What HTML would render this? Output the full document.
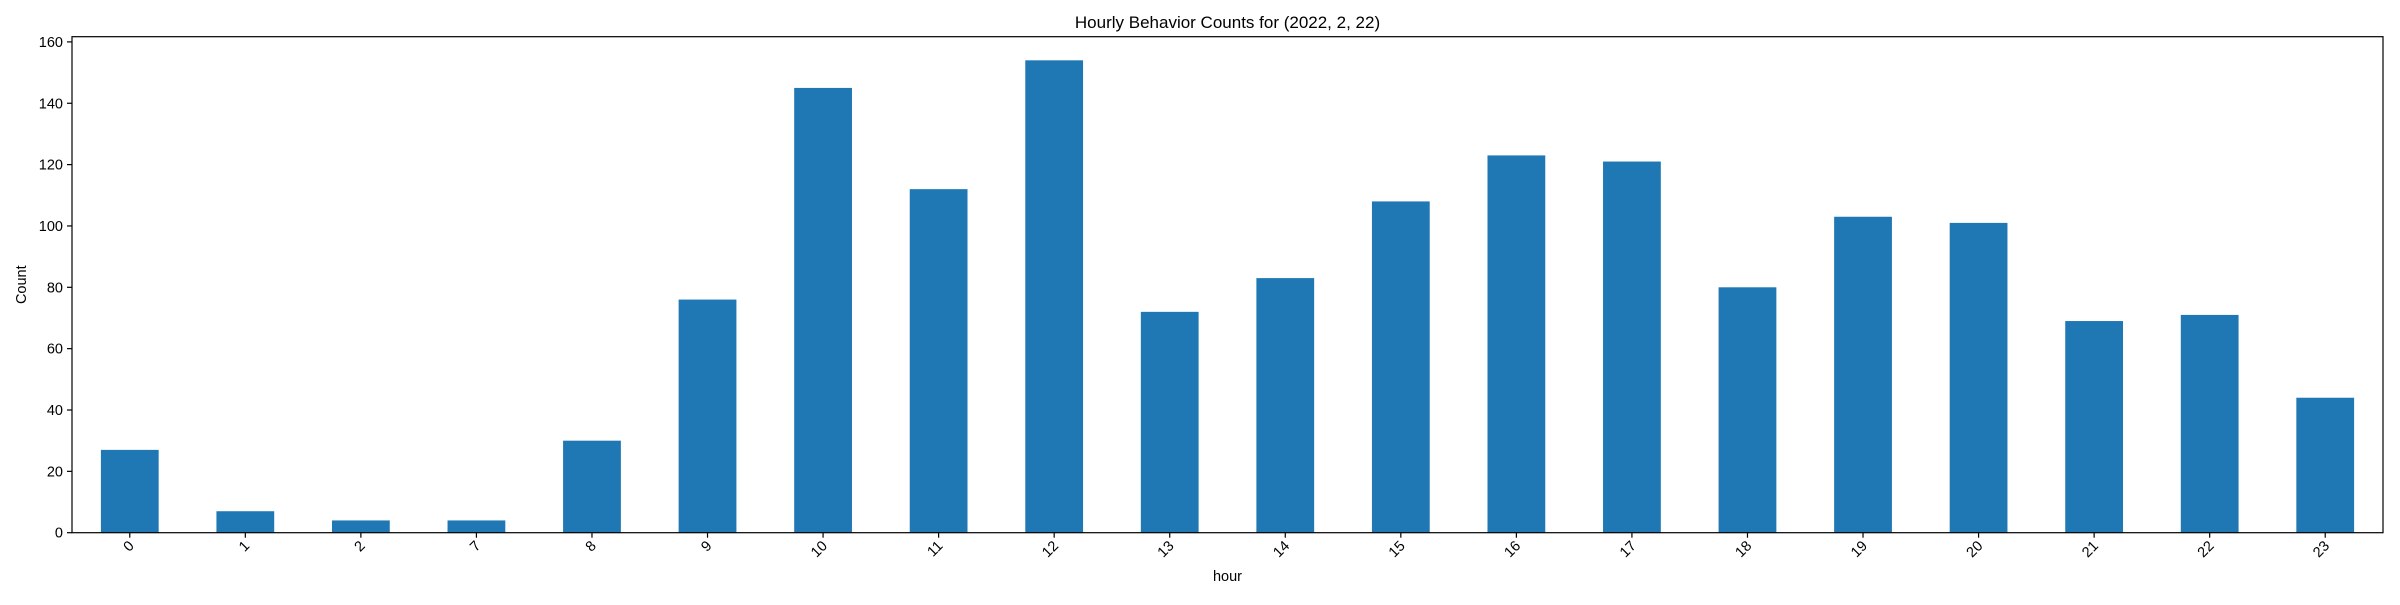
<!DOCTYPE html>
<html><head><meta charset="utf-8"><style>
body{margin:0;background:#fff;}
svg text{font-family:"Liberation Sans","DejaVu Sans",sans-serif;fill:#000;}
</style></head><body>
<svg id="chart" width="2400" height="600" xmlns="http://www.w3.org/2000/svg">
<rect width="2400" height="600" fill="#fff"/>
<text x="1227.5" y="28" font-size="17" text-anchor="middle">Hourly Behavior Counts for (2022, 2, 22)</text>
<text transform="translate(26,284.7) rotate(-90)" font-size="14.5" text-anchor="middle">Count</text>
<text x="1227.5" y="581" font-size="14.5" text-anchor="middle">hour</text>
<g id="bars"></g><g id="axes"></g>
</svg>
<script>
const categories=["0","1","2","7","8","9","10","11","12","13","14","15","16","17","18","19","20","21","22","23"];
const counts=[27,7,4,4,30,76,145,112,154,72,83,108,123,121,80,103,101,69,71,44];
const yTicks=[0,20,40,60,80,100,120,140,160];
const L=72,R=2383,T=36.7,B=532.7;
const yMax=Math.max(...counts)*1.05;
const ns="http://www.w3.org/2000/svg";
const step=(R-L)/categories.length;
const x=i=>L+step*(i+0.5);
const y=v=>B-(v/yMax)*(B-T);
const bars=document.getElementById('bars'),axes=document.getElementById('axes');
function mk(tag,attrs,parent){const e=document.createElementNS(ns,tag);for(const k in attrs)e.setAttribute(k,attrs[k]);parent.appendChild(e);return e;}
counts.forEach((v,i)=>{
  const r=mk('rect',{x:x(i)-step/4,y:y(v),width:step/2,height:B-y(v),fill:'#1f77b4'},bars);
  
  
  mk('line',{x1:x(i),x2:x(i),y1:B,y2:B+5,stroke:'#000','stroke-width':1.2},axes);
  const t=mk('text',{x:0,y:0,'font-size':14.5,'text-anchor':'end',transform:`translate(${x(i)+5},${B+14}) rotate(-45)`},axes);
  t.textContent=categories[i];
  
  
});
yTicks.forEach(v=>{
  mk('line',{x1:L-5,x2:L,y1:y(v),y2:y(v),stroke:'#000','stroke-width':1.2},axes);
  const t=mk('text',{x:L-9,y:y(v)+5,'font-size':14.5,'text-anchor':'end'},axes);
  t.textContent=v;
  
  
});
const f=mk('rect',{x:L,y:T,width:R-L,height:B-T,fill:'none',stroke:'#000','stroke-width':1.2},axes);


</script>
</body></html>
